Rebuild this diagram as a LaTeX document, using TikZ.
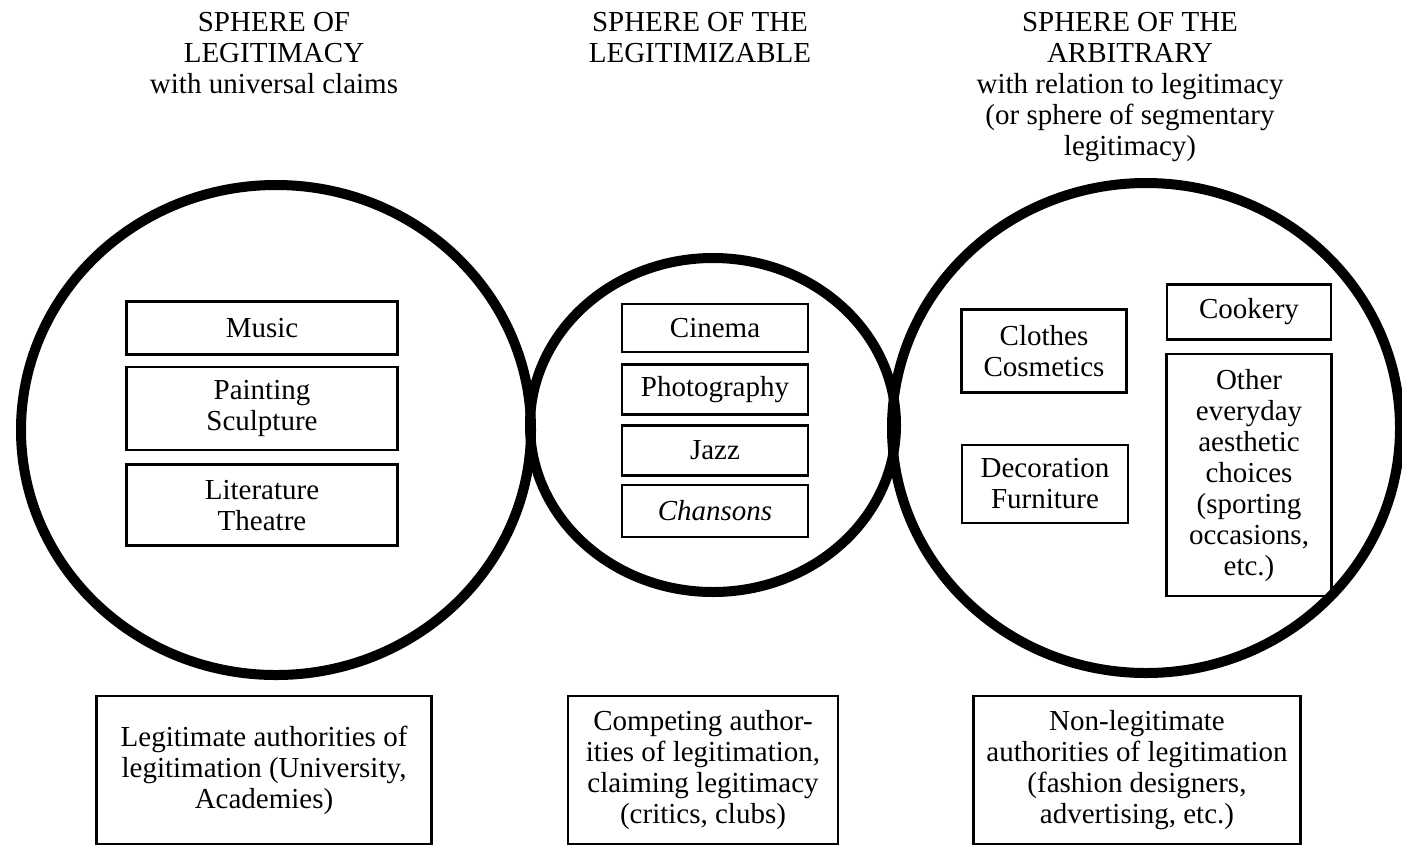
\documentclass[tikz,border=0pt]{standalone}
\usepackage{fontspec}
\setmainfont{Liberation Serif}
\usetikzlibrary{positioning}
\newcommand{\spherestroke}{5pt}
\newcommand{\fieldstroke}{1.3pt}
\newcommand{\fieldfont}{\fontsize{14.5}{15.5}\selectfont}

\tikzset{
  sphere/.style={line width=\spherestroke},
  field/.style={draw, line width=\fieldstroke, align=center, inner sep=2pt, font=\fieldfont},
  authority/.style={field, line width=1.4pt, minimum height=74pt},
  heading/.style={align=center, inner sep=0pt, anchor=north, font=\fieldfont}
}

\begin{document}
\begin{tikzpicture}[x=0.5pt, y=-0.5pt]
            \useasboundingbox (0,0) rectangle (1402,847);
            % the three spheres
            \coordinate (legit) at (276,430);
            \coordinate (legitz) at (713,425);
            \coordinate (arbit) at (1146,428);
            \draw[sphere] (legit) ellipse [x radius=255, y radius=245];
            \draw[sphere] (legitz) ellipse [x radius=183, y radius=167];
            \draw[sphere] (arbit) ellipse [x radius=254, y radius=245];

            \node[heading] (hlegit) at (274,12) {SPHERE OF\\LEGITIMACY\\with universal claims};
            \node[heading] (hlegitz) at (700,12) {SPHERE OF THE\\LEGITIMIZABLE};
            \node[heading] (harbit) at (1130,12) {SPHERE OF THE\\ARBITRARY\\with relation to legitimacy\\(or sphere of segmentary\\legitimacy)};

            % sphere of legitimacy
            \node[field, minimum width=135.5pt, minimum height=26.5pt] (music) at (262,328) {Music};
            \node[field, minimum width=135.5pt, minimum height=41.5pt, below=5pt of music] (painting) {Painting\\Sculpture};
            \node[field, minimum width=135.5pt, minimum height=40.5pt, below=6pt of painting] (literature) {Literature\\Theatre};

            % sphere of the legitimizable
            \node[field, minimum width=93pt, minimum height=24pt] (cinema) at (715,328) {Cinema};
            \node[field, minimum width=93pt, minimum height=25pt, below=5pt of cinema] (photo) {Photography};
            \node[field, minimum width=93pt, minimum height=25pt, below=4pt of photo] (jazz) {Jazz};
            \node[field, minimum width=93pt, minimum height=26pt, below=3.5pt of jazz] (chansons) {\textit{Chansons}};

            % sphere of the arbitrary
            \node[field, minimum width=82.5pt, minimum height=41.5pt] (clothes) at (1044,351) {Clothes\\Cosmetics};
            \node[field, minimum width=83pt, minimum height=39pt] (decor) at (1045,484) {Decoration\\Furniture};
            \node[field, minimum width=82pt, minimum height=27.5pt] (cookery) at (1249,312) {Cookery};
            \node[field, minimum width=82.5pt, minimum height=121pt, below=6pt of cookery] (other) {Other\\everyday\\aesthetic\\choices\\(sporting\\occasions,\\etc.)};

            % authorities
            \node[authority, minimum width=167.5pt] (authleg) at (264,770) {Legitimate authorities of\\legitimation (University,\\Academies)};
            \node[authority, minimum width=135pt] (authcomp) at (703,770) {Competing author-\\ities of legitimation,\\claiming legitimacy\\(critics, clubs)};
            \node[authority, minimum width=163.5pt] (authnon) at (1137,770) {Non-legitimate\\authorities of legitimation\\(fashion designers,\\advertising, etc.)};
        \end{tikzpicture}
\end{document}
